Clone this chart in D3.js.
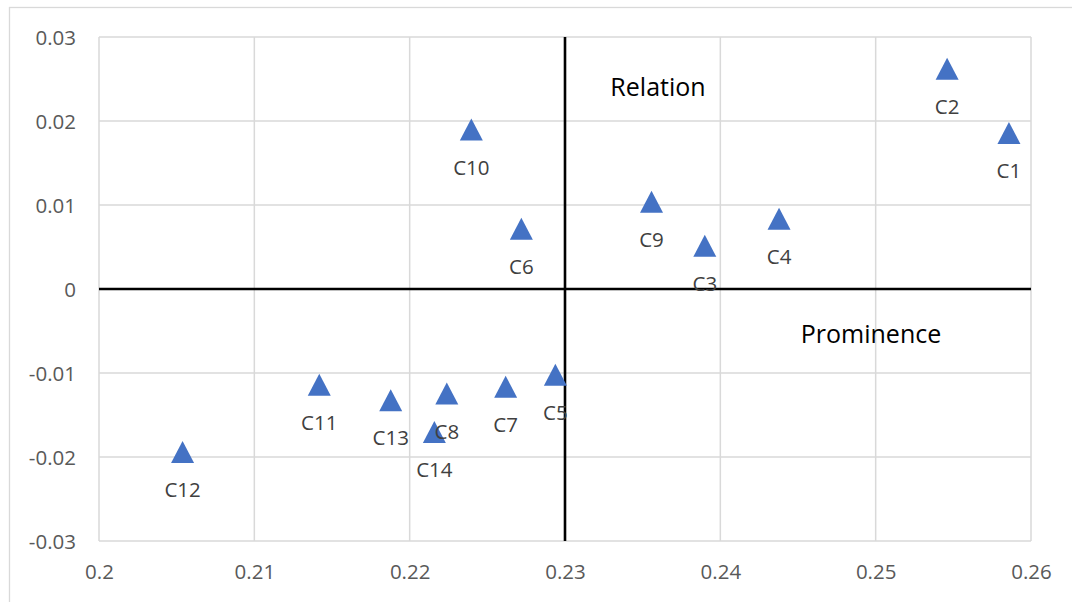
<!DOCTYPE html>
<html>
<head>
<meta charset="utf-8">
<script src="https://cdn.jsdelivr.net/npm/d3@7"></script>
<style>
  html, body { margin: 0; padding: 0; background: #fff; }
  svg { display: block; }
</style>
</head>
<body>
<svg id="chart" width="1072" height="602"></svg>
<script>
const labels = ["C1","C2","C3","C4","C5","C6","C7","C8","C9","C10","C11","C12","C13","C14"];
const prominence = [0.25858, 0.2546, 0.2390, 0.24378, 0.22938, 0.22719, 0.22618, 0.22239, 0.23557, 0.22397, 0.21418, 0.20538, 0.21878, 0.22159];
const relation = [0.01857, 0.02621, 0.00514, 0.00837, -0.0102, 0.00718, -0.01163, -0.01244, 0.0104, 0.01899, -0.01139, -0.0194, -0.01325, -0.01702];
const xTicks = [0.2, 0.21, 0.22, 0.23, 0.24, 0.25, 0.26];
const yTicks = [-0.03, -0.02, -0.01, 0, 0.01, 0.02, 0.03];
const xCross = 0.23, yCross = 0;

const svg = d3.select("#chart");
const W = 1072, H = 602;
const pLeft = 99, pRight = 1031, pTop = 37, pBottom = 541;
const font = "'Open Sans', 'Noto Sans', sans-serif";

// outer chart border
svg.append("rect").attr("x", 9.5).attr("y", 7.5).attr("width", W + 20).attr("height", H + 20)
  .attr("fill", "#fff").attr("stroke", "#d9d9d9").attr("stroke-width", 1.3);

const x = d3.scaleLinear().domain([0.2, 0.26]).range([pLeft, pRight]);
const y = d3.scaleLinear().domain([-0.03, 0.03]).range([pBottom, pTop]);

// grid
const grid = svg.append("g").attr("stroke", "#d9d9d9").attr("stroke-width", 1.5);
grid.selectAll("line.v").data(xTicks).join("line").attr("class", "v")
  .attr("x1", d => x(d)).attr("x2", d => x(d)).attr("y1", pTop).attr("y2", pBottom);
grid.selectAll("line.h").data(yTicks).join("line").attr("class", "h")
  .attr("y1", d => y(d)).attr("y2", d => y(d)).attr("x1", pLeft).attr("x2", pRight);

// axes tick labels using d3 axes
const fmt = d => (d < 0 ? "-" : "") + String(+Math.abs(d).toFixed(2));
const xAxis = d3.axisBottom(x).tickValues(xTicks).tickSize(0).tickPadding(0).tickFormat(fmt);
const gx = svg.append("g").attr("transform", `translate(0, ${pBottom})`).call(xAxis);
gx.select(".domain").remove();
gx.selectAll("text").attr("fill", "#595959").attr("font-family", font).attr("font-size", 20.5)
  .attr("dy", "0.35em").attr("y", 31);

const yAxis = d3.axisLeft(y).tickValues(yTicks).tickSize(0).tickPadding(0).tickFormat(fmt);
const gy = svg.append("g").attr("transform", `translate(${pLeft - 23}, 0)`).call(yAxis);
gy.select(".domain").remove();
gy.selectAll("text").attr("fill", "#595959").attr("font-family", font).attr("font-size", 20.5)
  .attr("dy", "0.35em").attr("x", 0);

// crossing axes
svg.append("line").attr("x1", x(xCross)).attr("x2", x(xCross)).attr("y1", pTop).attr("y2", pBottom)
  .attr("stroke", "#000").attr("stroke-width", 2.6);
svg.append("line").attr("x1", pLeft).attr("x2", pRight).attr("y1", y(yCross)).attr("y2", y(yCross))
  .attr("stroke", "#000").attr("stroke-width", 2.6);

// annotations
svg.append("text").attr("x", 658).attr("y", 96).attr("text-anchor", "middle")
  .attr("font-family", font).attr("font-size", 25).attr("fill", "#000").text("Relation");
svg.append("text").attr("x", 871).attr("y", 343).attr("text-anchor", "middle")
  .attr("font-family", font).attr("font-size", 25).attr("fill", "#000").text("Prominence");

// points
const data = labels.map((l, i) => ({ l, px: prominence[i], ry: relation[i] }));
const tri = "M0,-11 L11.5,11 L-11.5,11 Z";
svg.append("g").selectAll("path").data(data).join("path")
  .attr("d", tri)
  .attr("transform", d => `translate(${x(d.px)}, ${y(d.ry)})`)
  .attr("fill", "#4472C4");

svg.append("g").selectAll("text").data(data).join("text")
  .attr("x", d => x(d.px)).attr("y", d => y(d.ry) + 38)
  .attr("dy", "0.35em").attr("text-anchor", "middle")
  .attr("font-family", font).attr("font-size", 20.5).attr("fill", "#404040")
  .text(d => d.l);
</script>
</body>
</html>
